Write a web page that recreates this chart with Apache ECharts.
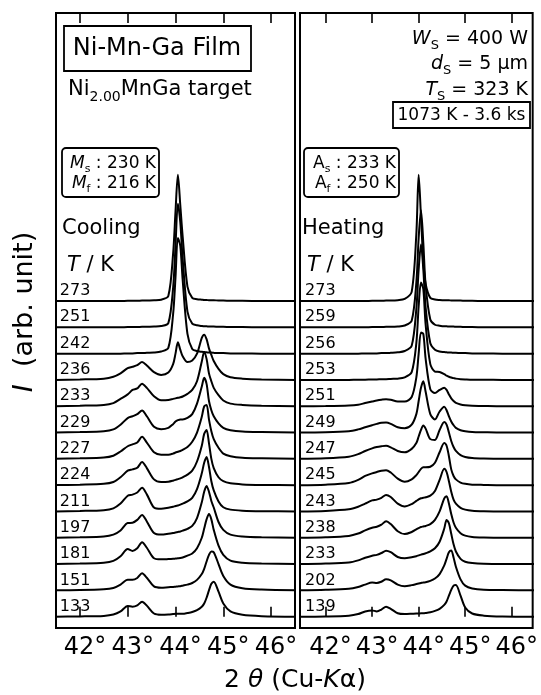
<!DOCTYPE html>
<html>
<head>
<meta charset="utf-8">
<script src="https://cdn.jsdelivr.net/npm/echarts@6/dist/echarts.min.js"></script>
<style>html,body{margin:0;padding:0;background:#fff}#chart{width:541px;height:695px}</style>
</head>
<body>
<div id="chart"></div>
<script>
// 2theta sampling grid shared by every curve (deg)
var TH = [41.4, 42.0, 42.5, 42.7, 42.85, 43.0, 43.1, 43.2, 43.3, 43.4, 43.55, 43.7, 43.85, 43.95, 44.0, 44.05, 44.1, 44.15, 44.25, 44.35, 44.45, 44.55, 44.6, 44.65, 44.7, 44.75, 44.8, 44.9, 45.0, 45.15, 45.4, 45.8, 46.6];
var TICKS = [42, 43, 44, 45, 46];

// cooling scans, intensity above own baseline (1 = curve spacing)
var COOL_T = ['273', '251', '242', '236', '233', '229', '227', '224', '211', '197', '181', '151', '133'];
var c273 = [0,0,0,0,0, 0.01,0.01,0.01,0.02,0.02, 0.03,0.05,0.19,1.8,3.4, 4.8,3.65,2.45,0.55,0.12, 0.07,0.05,0.04,0.04,0.03, 0.03,0.03,0.02,0.02,0.01, 0.01,0,0];
var c251 = [0,0,0,0,0, 0.01,0.01,0.01,0.02,0.02, 0.03,0.05,0.16,1.5,3.1, 4.7,4.0,2.6,0.6,0.14, 0.08,0.05,0.04,0.04,0.03, 0.03,0.03,0.02,0.02,0.01, 0.01,0,0];
var c242 = [0,0,0,0,0, 0.01,0.01,0.02,0.02,0.03, 0.04,0.08,0.22,1.5,2.9, 4.4,4.1,2.8,0.75,0.18, 0.1,0.07,0.06,0.05,0.04, 0.04,0.03,0.02,0.02,0.01, 0.01,0,0];
var c236 = [0,0.02,0.05,0.12,0.25, 0.45,0.5,0.56,0.68,0.55, 0.3,0.19,0.28,0.6,1.0, 1.43,1.15,0.9,0.68,0.74, 1.0,1.6,1.72,1.55,1.2, 0.95,0.72,0.42,0.22,0.1, 0.05,0.02,0];
var c233 = [0,0.02,0.05,0.12,0.28, 0.45,0.62,0.68,0.86,0.7, 0.38,0.23,0.24,0.28,0.3, 0.32,0.34,0.37,0.47,0.62, 0.95,1.7,2.06,1.8,1.25, 0.95,0.7,0.42,0.22,0.1, 0.05,0.02,0];
var c229 = [0,0.02,0.05,0.12,0.3, 0.55,0.62,0.7,0.84,0.62, 0.22,0.13,0.18,0.32,0.42, 0.47,0.5,0.5,0.56,0.7, 1.1,1.75,2.08,1.85,1.2, 0.85,0.62,0.35,0.18,0.09, 0.04,0.02,0];
var c227 = [0,0.02,0.05,0.12,0.28, 0.48,0.55,0.62,0.84,0.62, 0.25,0.16,0.16,0.2,0.24, 0.27,0.3,0.34,0.45,0.65, 1.0,1.6,2.0,2.05,1.5, 1.05,0.75,0.42,0.2,0.1, 0.04,0.02,0];
var c224 = [0,0.02,0.05,0.12,0.3, 0.55,0.6,0.66,0.88,0.65, 0.22,0.12,0.13,0.17,0.2, 0.23,0.26,0.3,0.4,0.55, 0.9,1.5,1.95,2.1,1.6, 1.0,0.65,0.3,0.15,0.07, 0.03,0.01,0];
var c211 = [0,0.02,0.05,0.12,0.3, 0.6,0.64,0.72,0.9,0.65, 0.15,0.1,0.14,0.18,0.21, 0.23,0.26,0.3,0.38,0.52, 0.85,1.45,1.85,2.07,1.7, 1.15,0.8,0.38,0.16,0.07, 0.03,0.01,0];
var c197 = [0,0.02,0.05,0.12,0.28, 0.56,0.57,0.68,0.87,0.62, 0.18,0.12,0.15,0.18,0.2, 0.22,0.24,0.27,0.34,0.45, 0.75,1.35,1.75,1.97,1.75, 1.4,1.15,0.6,0.3,0.12, 0.05,0.02,0];
var c181 = [0,0.02,0.05,0.12,0.3, 0.57,0.5,0.6,0.83,0.62, 0.22,0.18,0.19,0.2,0.21, 0.22,0.23,0.25,0.32,0.4, 0.6,1.0,1.35,1.7,1.9, 1.7,1.3,0.7,0.35,0.13, 0.05,0.02,0];
var c151 = [0,0.01,0.04,0.09,0.22, 0.4,0.4,0.47,0.65,0.48, 0.15,0.1,0.12,0.13,0.14, 0.15,0.16,0.18,0.22,0.28, 0.4,0.62,0.82,1.1,1.35, 1.48,1.45,1.0,0.55,0.22, 0.08,0.03,0];
var c133 = [0,0.01,0.03,0.08,0.2, 0.41,0.38,0.43,0.57,0.42, 0.12,0.07,0.08,0.1,0.11, 0.11,0.11,0.11,0.14,0.18, 0.25,0.38,0.5,0.72,1.0, 1.25,1.33,0.95,0.5,0.2, 0.07,0.02,0];

// heating scans
var HEAT_T = ['273', '259', '256', '253', '251', '249', '247', '245', '243', '238', '233', '202', '139'];
var h273 = [0,0,0,0,0, 0.01,0.01,0.01,0.02,0.02, 0.03,0.08,0.35,2.55,4.8, 3.2,1.5,0.65,0.12,0.06, 0.04,0.03,0.03,0.03,0.02, 0.02,0.02,0.02,0.01,0.01, 0,0,0];
var h259 = [0,0,0,0,0, 0.01,0.01,0.01,0.02,0.02, 0.03,0.07,0.25,1.7,3.4, 4.45,3.2,1.6,0.3,0.1, 0.06,0.04,0.04,0.03,0.03, 0.03,0.02,0.02,0.01,0.01, 0,0,0];
var h256 = [0,0,0,0,0.01, 0.01,0.01,0.02,0.02,0.03, 0.05,0.1,0.3,1.7,3.2, 4.15,3.2,1.75,0.4,0.15, 0.08,0.06,0.05,0.04,0.04, 0.03,0.03,0.02,0.02,0.01, 0.01,0,0];
var h253 = [0,0,0,0.01,0.01, 0.02,0.02,0.03,0.03,0.04, 0.05,0.1,0.3,1.4,2.8, 3.7,3.45,2.1,0.6,0.32, 0.3,0.22,0.16,0.12,0.09, 0.07,0.05,0.03,0.02,0.01, 0.01,0,0];
var h251 = [0,0.01,0.03,0.06,0.12, 0.18,0.22,0.25,0.27,0.25, 0.18,0.18,0.35,1.1,2.0, 2.8,2.75,1.8,0.65,0.5, 0.62,0.7,0.62,0.45,0.3, 0.2,0.13,0.07,0.04,0.02, 0.01,0,0];
var h249 = [0,0.01,0.05,0.12,0.2, 0.28,0.33,0.37,0.38,0.33, 0.2,0.16,0.3,0.7,1.2, 1.7,1.95,1.55,0.7,0.5, 0.8,0.98,0.85,0.62,0.42, 0.28,0.18,0.09,0.05,0.02, 0.01,0,0];
var h247 = [0,0.02,0.08,0.18,0.3, 0.4,0.45,0.48,0.5,0.44, 0.3,0.25,0.38,0.6,0.85, 1.1,1.27,1.15,0.75,0.72, 1.1,1.4,1.3,1.0,0.68, 0.45,0.3,0.14,0.07,0.03, 0.01,0,0];
var h245 = [0,0.02,0.08,0.2,0.35, 0.45,0.5,0.55,0.57,0.48, 0.25,0.13,0.22,0.38,0.5, 0.62,0.68,0.68,0.7,0.85, 1.25,1.6,1.5,1.1,0.6, 0.35,0.22,0.1,0.05,0.02, 0.01,0,0];
var h243 = [0,0.02,0.08,0.18,0.3, 0.42,0.45,0.52,0.63,0.55, 0.3,0.19,0.28,0.4,0.46, 0.5,0.52,0.54,0.6,0.78, 1.2,1.62,1.5,1.15,0.75, 0.45,0.3,0.14,0.07,0.03, 0.01,0,0];
var h238 = [0,0.02,0.07,0.16,0.28, 0.38,0.42,0.5,0.63,0.52, 0.25,0.14,0.22,0.32,0.37, 0.41,0.43,0.45,0.52,0.68, 1.0,1.5,1.58,1.3,0.9, 0.58,0.38,0.17,0.08,0.03, 0.01,0,0];
var h233 = [0,0.02,0.06,0.14,0.24, 0.32,0.35,0.42,0.51,0.45, 0.27,0.22,0.26,0.3,0.33, 0.36,0.38,0.41,0.48,0.6, 0.85,1.35,1.68,1.55,1.15, 0.75,0.48,0.2,0.09,0.04, 0.01,0,0];
var h202 = [0,0.02,0.06,0.13,0.22, 0.3,0.28,0.33,0.42,0.38, 0.22,0.16,0.2,0.24,0.26, 0.28,0.3,0.31,0.36,0.45, 0.62,0.95,1.2,1.45,1.52, 1.25,0.9,0.42,0.18,0.07, 0.02,0.01,0];
var h139 = [0,0.01,0.04,0.1,0.2, 0.24,0.2,0.27,0.38,0.3, 0.13,0.1,0.11,0.12,0.12, 0.13,0.13,0.14,0.17,0.22, 0.3,0.45,0.58,0.8,1.02, 1.18,1.2,0.8,0.35,0.12, 0.04,0.01,0];

var COOL = [c273, c251, c242, c236, c233, c229, c227, c224, c211, c197, c181, c151, c133];
var HEAT = [h273, h259, h256, h253, h251, h249, h247, h245, h243, h238, h233, h202, h139];

var FONT = 'DejaVu Sans';
var myChart = echarts.init(document.getElementById('chart'));

function panelSeries(curves, labels, g, x0) {
    var out = [];
    var n = curves.length;
    for (var i = 0; i < n; i++) {
        var off = n - 1 - i;
        var ys = curves[i];
        out.push({
            type: 'line',
            xAxisIndex: g * 2,
            yAxisIndex: g,
            data: TH.map(function (t, j) { return [t, off + ys[j]]; }),
            smooth: 0.3,
            symbol: 'none',
            lineStyle: {color: '#000', width: 2},
            silent: true
        });
    }
    out.push({
        type: 'scatter',
        xAxisIndex: g * 2,
        yAxisIndex: g,
        symbolSize: 0,
        itemStyle: {opacity: 1},
        data: labels.map(function (l, i) { return [x0, n - 1 - i, l]; }),
        label: {
            show: true, position: 'right', distance: 0, verticalAlign: 'bottom', offset: [0, -2],
            formatter: function (p) { return p.data[2]; },
            fontFamily: FONT, fontSize: 16, color: '#000'
        },
        silent: true
    });
    return out;
}

function xAxes(g, min, max) {
    var tick = {show: true, inside: true, length: 10, customValues: TICKS, lineStyle: {color: '#000', width: 1.6}};
    return [
        {
            type: 'value', gridIndex: g, min: min, max: max, position: 'bottom',
            axisLine: {show: false}, splitLine: {show: false}, axisTick: tick,
            axisLabel: {customValues: TICKS, formatter: '{value}°', fontFamily: FONT, fontSize: 24, color: '#000', margin: 8, padding: [0, 0, 0, 10]}
        },
        {
            type: 'value', gridIndex: g, min: min, max: max, position: 'top',
            axisLine: {show: false}, splitLine: {show: false}, axisTick: tick, axisLabel: {show: false}
        }
    ];
}

function rich(size, sub, lh) {
    return {
        n: {fontFamily: FONT, fontSize: size, lineHeight: lh},
        it: {fontFamily: FONT, fontSize: size, fontStyle: 'italic', lineHeight: lh},
        sub: {fontFamily: FONT, fontSize: sub, verticalAlign: 'bottom', lineHeight: sub}
    };
}

function txt(x, y, text, size, align, sub, lh, rot) {
    return {
        type: 'text', x: x, y: y, rotation: rot || 0, silent: true,
        style: {
            text: text, fill: '#000', align: align, verticalAlign: 'middle',
            font: size + 'px "' + FONT + '"', rich: rich(size, sub || size, lh || size + 4)
        }
    };
}

function box(x, y, w, h, r) {
    return {type: 'rect', silent: true, shape: {x: x, y: y, width: w, height: h, r: r || 0},
        style: {fill: 'none', stroke: '#000', lineWidth: 1.8}};
}

var option = {
    backgroundColor: '#fff',
    animation: false,
    grid: [
        {left: 56, top: 13, width: 239, height: 615, show: true, borderColor: '#000', borderWidth: 2},
        {left: 300, top: 13, width: 238, height: 615, show: true, borderColor: '#000', borderWidth: 2}
    ],
    xAxis: xAxes(0, 41.5, 46.5).concat(xAxes(1, 41.45, 46.45)),
    yAxis: [
        {type: 'value', gridIndex: 0, min: -0.43, max: 22.95, show: false},
        {type: 'value', gridIndex: 1, min: -0.43, max: 22.95, show: false}
    ],
    series: panelSeries(COOL, COOL_T, 0, 41.58).concat(panelSeries(HEAT, HEAT_T, 1, 41.56)),
    graphic: [
        box(64, 26, 187, 45),
        txt(157, 49, 'Ni-Mn-Ga Film', 24, 'center'),
        txt(68, 90, '{n|Ni}{sub|2.00}{n|MnGa target}', 21, 'left', 14, 28),
        box(62, 148, 97, 49, 4),
        txt(156, 164, '{it|M}{sub|s}{n| : 230 K}', 17, 'right', 11, 22),
        txt(156, 184, '{it|M}{sub|f}{n| : 216 K}', 17, 'right', 11, 22),
        txt(62, 229, 'Cooling', 21, 'left'),
        txt(67, 266, '{it|T}{n| / K}', 21, 'left'),
        txt(528, 39, '{it|W}{sub|S}{n| = 400 W}', 19, 'right', 13, 26),
        txt(528, 64, '{it|d}{sub|S}{n| = 5 μm}', 19, 'right', 13, 26),
        txt(528, 90, '{it|T}{sub|S}{n| = 323 K}', 19, 'right', 13, 26),
        box(393, 102, 137, 26),
        txt(461.5, 115.5, '1073 K - 3.6 ks', 17, 'center'),
        box(304, 148, 95, 49, 4),
        txt(396, 164, '{n|A}{sub|s}{n| : 233 K}', 17, 'right', 11, 22),
        txt(396, 184, '{n|A}{sub|f}{n| : 250 K}', 17, 'right', 11, 22),
        txt(302, 229, 'Heating', 21, 'left'),
        txt(307, 266, '{it|T}{n| / K}', 21, 'left'),
        txt(25, 312, '{it|I}{n|  (arb. unit)}', 27, 'center', 27, 30, Math.PI / 2),
        txt(295, 680, '{n|2 }{it|θ}{n| (Cu-}{it|K}{n|α)}', 25, 'center', 25, 30)
    ]
};
myChart.setOption(option);
</script>
</body>
</html>
